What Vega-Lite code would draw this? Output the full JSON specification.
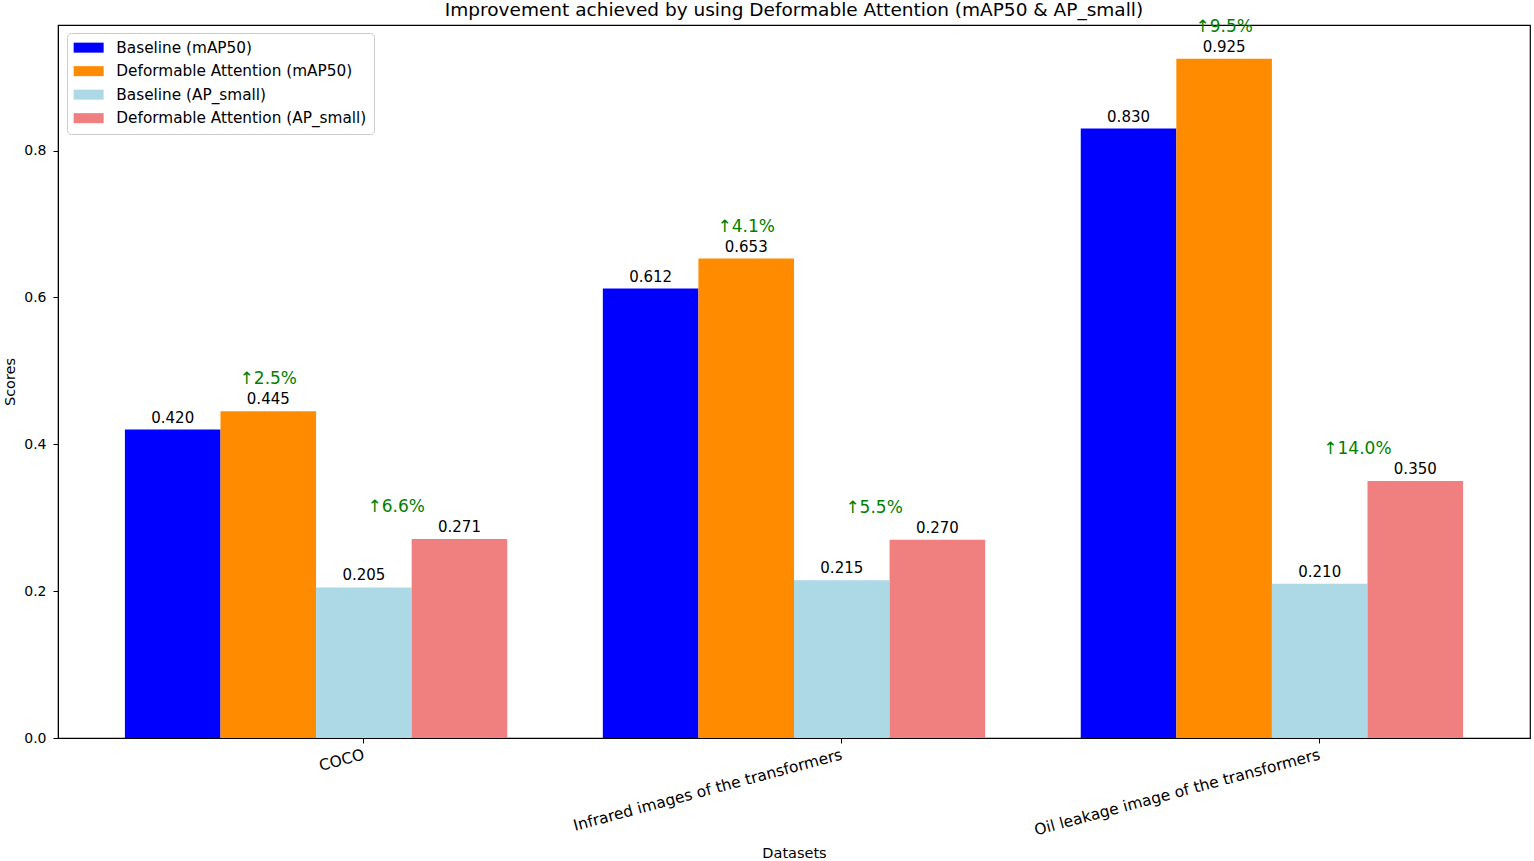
{
  "$schema": "https://vega.github.io/schema/vega-lite/v6.json",
  "width": 1472,
  "height": 713,
  "autosize": {"type": "none"},
  "padding": {"left": 58, "top": 25, "right": 4, "bottom": 123},
  "title": {"text": "Improvement achieved by using Deformable Attention (mAP50 & AP_small)", "fontSize": 18.5, "font": "DejaVu Sans", "fontWeight": "normal", "offset": -2, "anchor": "middle", "color": "black"},
  "config": {
    "font": "DejaVu Sans",
    "view": {"stroke": "black", "strokeWidth": 1.2},
    "axis": {"labelFont": "DejaVu Sans", "titleFont": "DejaVu Sans", "labelFontSize": 14, "titleFontSize": 14.5, "titleFontWeight": "normal", "labelColor": "black", "titleColor": "black", "domainColor": "black", "tickColor": "black", "tickSize": 5, "grid": false}
  },
  "data": {"values": [
    {"dataset": "COCO", "series": "Baseline (mAP50)", "score": 0.420, "imp": ""},
    {"dataset": "COCO", "series": "Deformable Attention (mAP50)", "score": 0.445, "imp": "↑2.5%"},
    {"dataset": "COCO", "series": "Baseline (AP_small)", "score": 0.205, "imp": ""},
    {"dataset": "COCO", "series": "Deformable Attention (AP_small)", "score": 0.271, "imp": "↑6.6%"},
    {"dataset": "Infrared images of the transformers", "series": "Baseline (mAP50)", "score": 0.612, "imp": ""},
    {"dataset": "Infrared images of the transformers", "series": "Deformable Attention (mAP50)", "score": 0.653, "imp": "↑4.1%"},
    {"dataset": "Infrared images of the transformers", "series": "Baseline (AP_small)", "score": 0.215, "imp": ""},
    {"dataset": "Infrared images of the transformers", "series": "Deformable Attention (AP_small)", "score": 0.270, "imp": "↑5.5%"},
    {"dataset": "Oil leakage image of the transformers", "series": "Baseline (mAP50)", "score": 0.830, "imp": ""},
    {"dataset": "Oil leakage image of the transformers", "series": "Deformable Attention (mAP50)", "score": 0.925, "imp": "↑9.5%"},
    {"dataset": "Oil leakage image of the transformers", "series": "Baseline (AP_small)", "score": 0.210, "imp": ""},
    {"dataset": "Oil leakage image of the transformers", "series": "Deformable Attention (AP_small)", "score": 0.350, "imp": "↑14.0%"}
  ]},
  "encoding": {
    "x": {"field": "dataset", "type": "nominal", "sort": ["COCO", "Infrared images of the transformers", "Oil leakage image of the transformers"],
      "scale": {"paddingInner": 0.2, "paddingOuter": 0.14},
      "axis": {"title": "Datasets", "labelAngle": -15, "labelAlign": "right", "labelBaseline": "top", "bandPosition": 0.625, "labelOffset": 46, "labelFontSize": 15.5, "labelPadding": 4, "titlePadding": 8, "labelLimit": 0}},
    "xOffset": {"field": "series", "type": "nominal", "sort": ["Baseline (mAP50)", "Deformable Attention (mAP50)", "Baseline (AP_small)", "Deformable Attention (AP_small)"], "scale": {"paddingInner": 0, "paddingOuter": 0}},
    "y": {"field": "score", "type": "quantitative", "scale": {"domain": [0, 0.971], "nice": false}, "axis": {"title": "Scores", "values": [0, 0.2, 0.4, 0.6, 0.8], "format": ".1f", "labelPadding": 7, "titlePadding": 6}}
  },
  "layer": [
    {"mark": {"type": "bar"},
     "encoding": {"color": {"field": "series", "type": "nominal",
       "scale": {"domain": ["Baseline (mAP50)", "Deformable Attention (mAP50)", "Baseline (AP_small)", "Deformable Attention (AP_small)"], "range": ["#0000FF", "#FF8C00", "#ADD8E6", "#F08080"]},
       "legend": {"title": null, "orient": "none", "legendX": 9, "legendY": 8, "symbolType": "M-3,-1H3V1H-3Z", "symbolSize": 100, "symbolOffset": 7, "symbolStrokeWidth": 0, "symbolOpacity": 1, "labelFontSize": 15.3, "labelFont": "DejaVu Sans", "labelColor": "black", "labelOffset": 20, "labelLimit": 500, "padding": 7, "strokeColor": "#cccccc", "cornerRadius": 4, "fillColor": "white", "rowPadding": 7.5}}}},
    {"mark": {"type": "text", "baseline": "bottom", "dy": -4, "fontSize": 15, "color": "black"},
     "encoding": {"text": {"field": "score", "type": "quantitative", "format": ".3f"}}},
    {"transform": [{"filter": "datum.series === 'Deformable Attention (mAP50)'"}],
     "mark": {"type": "text", "baseline": "middle", "dy": -32, "fontSize": 17, "color": "green"},
     "encoding": {"text": {"field": "imp", "type": "nominal"}}},
    {"transform": [{"filter": "datum.series === 'Deformable Attention (AP_small)'"}],
     "mark": {"type": "text", "align": "left", "dx": -92, "baseline": "middle", "dy": -32, "fontSize": 17, "color": "green"},
     "encoding": {"text": {"field": "imp", "type": "nominal"}}}
  ]
}
